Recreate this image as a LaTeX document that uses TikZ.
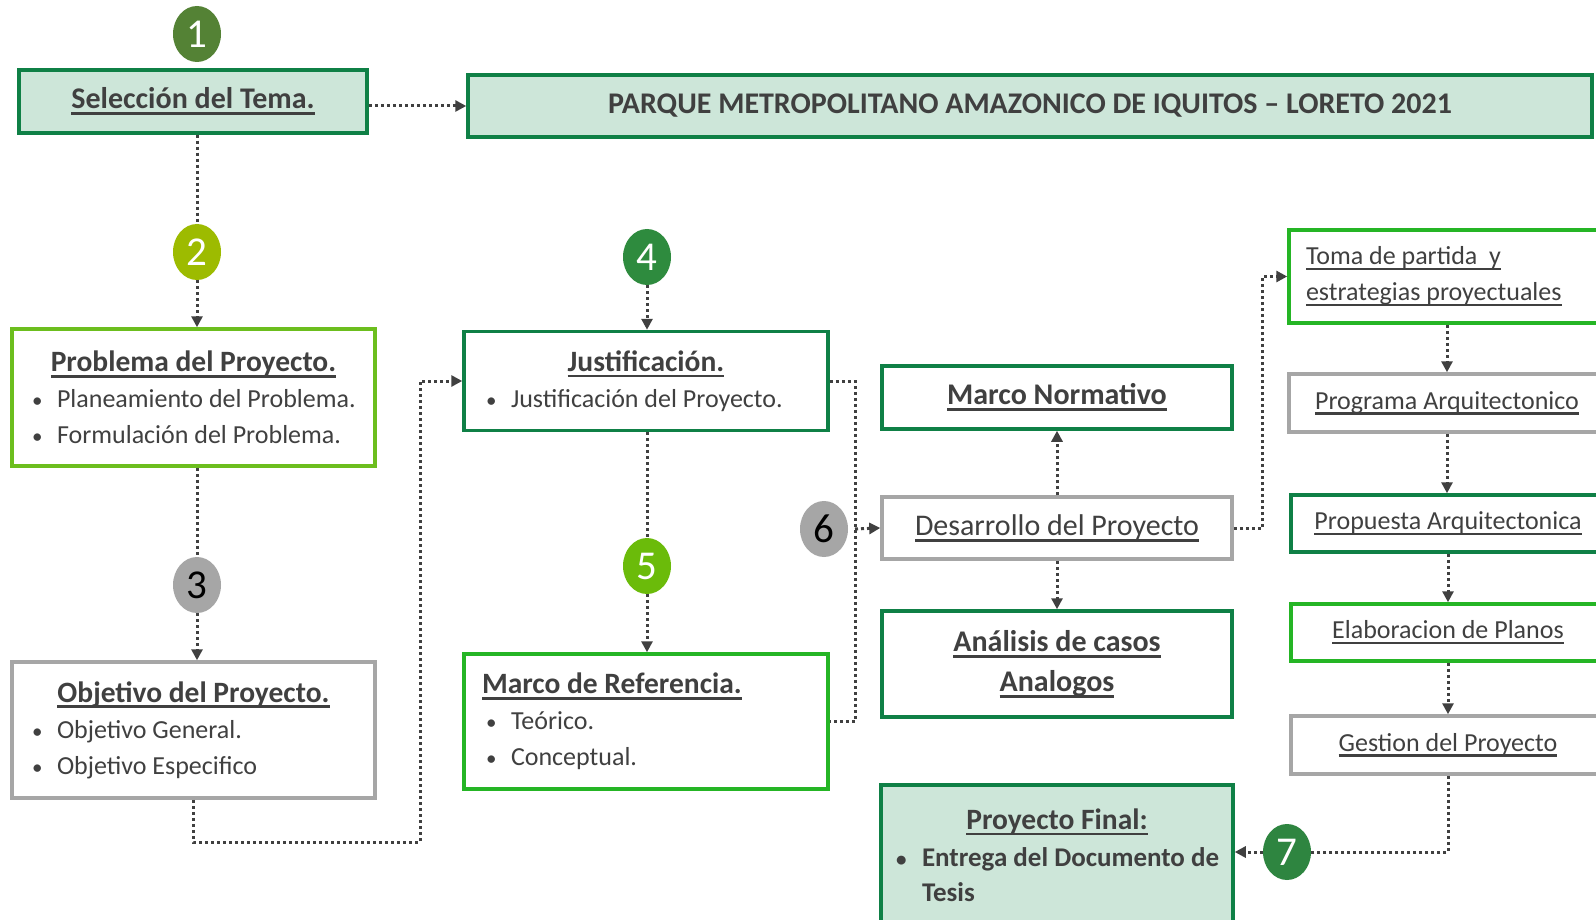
\documentclass[tikz,border=0pt]{standalone}
\usepackage{fontspec}
\setmainfont{Carlito}
\usepackage{tikz}
\usetikzlibrary{arrows.meta,shapes.geometric,positioning}
\definecolor{dgreen}{HTML}{0F8046}
\definecolor{lfill}{HTML}{CDE6D9}
\definecolor{bgreen}{HTML}{25B525}
\definecolor{ygreen}{HTML}{6CBE1E}
\definecolor{gry}{HTML}{A6A6A6}
\definecolor{txt}{HTML}{404040}
\definecolor{cone}{HTML}{548235}
\definecolor{ctwo}{HTML}{9DBB00}
\definecolor{cfour}{HTML}{2E8B3E}
\definecolor{cfive}{HTML}{6BBB0A}
\definecolor{cseven}{HTML}{2E8540}
\newcommand{\hdf}{\fontsize{29.5}{36}\selectfont\bfseries}
\newcommand{\bdf}{\fontsize{26}{36}\selectfont}
\newcommand{\nsk}{\spaceskip=0pt\xspaceskip=0pt\relax}
\newcommand{\ulin}[1]{\leavevmode\setbox0\hbox{\nsk#1}\rlap{\rule[-0.21em]{\wd0}{0.1em}}\box0}
\newcommand{\bdot}{{\fontsize{21}{21}\selectfont\textbullet}}
\newcommand{\bline}[1]{\makebox[25pt][l]{\bdot}\mbox{\nsk#1}}
\tikzset{>={Triangle[length=11pt,width=11pt]}}
\tikzset{
  box/.style={rectangle, draw=#1, line width=3.5pt, inner sep=0pt, text=txt},
  num/.style={ellipse, fill=#1, inner sep=0pt, minimum width=48pt, minimum height=56pt,
    text=white, font=\fontsize{41}{41}\selectfont},
  flow/.style={draw=txt, line width=3pt, dash pattern=on 3pt off 3pt}
}

\begin{document}
\begin{tikzpicture}[x=1pt,y=-1pt]
    \useasboundingbox (0,0) rectangle (1596,920);
    \fill[white] (0,0) rectangle (1596,920);
    \clip (0,0) rectangle (1596,920);

    % paso 1
    \node[num=cone] (c1) at (197,34) {1};
    \node[box=dgreen, fill=lfill, minimum width=348pt, minimum height=63pt, font=\fontsize{30}{36}\selectfont\bfseries] (sel) at (193,101.5) {\ulin{Selección del Tema.}};
    \node[box=dgreen, fill=lfill, minimum width=1124pt, minimum height=62pt, font=\fontsize{30}{36}\selectfont\bfseries] (title) at (1030,106) {\nsk PARQUE METROPOLITANO AMAZONICO DE IQUITOS – LORETO 2021};

    % paso 2 y 3
    \node[num=ctwo] (c2) at (197,252) {2};
    \node[box=ygreen, minimum width=363pt, minimum height=137pt, text width=323pt, align=left, font=\bdf] (prob) at (193.5,397.5)
        {\makebox[\linewidth]{\hdf\ulin{Problema del Proyecto.}}\\ \bline{Planeamiento del Problema.}\\ \bline{Formulación del Problema.}};
    \node[num=gry, text=black] (c3) at (197,585) {3};
    \node[box=gry, minimum width=363pt, minimum height=136pt, text width=323pt, align=left, font=\bdf] (obj) at (193.5,730)
        {\makebox[\linewidth]{\hdf\ulin{Objetivo del Proyecto.}}\\ \bline{Objetivo General.}\\ \bline{Objetivo Especifico}};

    % paso 4 y 5
    \node[num=cfour] (c4) at (647,257) {4};
    \node[box=dgreen, minimum width=364pt, minimum height=99pt, text width=320pt, align=left, font=\bdf] (just) at (646,381)
        {\makebox[\linewidth]{\hdf\ulin{Justificación.}}\\ \bline{Justificación del Proyecto.}};
    \node[num=cfive] (c5) at (647,566) {5};
    \node[box=bgreen, minimum width=364pt, minimum height=135pt, text width=320pt, align=left, font=\bdf] (mref) at (646,721.5)
        {\hspace*{-4pt}{\hdf\ulin{Marco de Referencia.}}\\ \bline{Teórico.}\\ \bline{Conceptual.}};

    % paso 6
    \node[num=gry, text=black] (c6) at (824,529) {6};
    \node[box=dgreen, minimum width=350pt, minimum height=63pt, font=\fontsize{30}{36}\selectfont\bfseries] (mnorm) at (1057,397.5) {\ulin{Marco Normativo}};
    \node[box=gry, minimum width=350pt, minimum height=62pt, font=\fontsize{30}{36}\selectfont] (desa) at (1057,528) {\ulin{Desarrollo del Proyecto}};
    \node[box=dgreen, minimum width=350pt, minimum height=106pt, align=center, font=\fontsize{30}{40}\selectfont\bfseries] (anal) at (1057,664)
        {\ulin{Análisis de casos}\\ \ulin{Analogos}};

    % columna derecha
    \node[box=bgreen, minimum width=316pt, minimum height=93pt, text width=282pt, align=left, font=\bdf] (toma) at (1447,276.5)
        {\ulin{Toma de partida\ \ y}\\ \ulin{estrategias proyectuales}};
    \node[box=gry, minimum width=316pt, minimum height=58pt, font=\bdf] (prog) at (1447,403) {\ulin{Programa Arquitectonico}};
    \node[box=dgreen, minimum width=314pt, minimum height=57pt, font=\bdf] (prop) at (1448,523.5) {\ulin{Propuesta Arquitectonica}};
    \node[box=bgreen, minimum width=314pt, minimum height=57pt, font=\bdf] (elab) at (1448,632.5) {\ulin{Elaboracion de Planos}};
    \node[box=gry, minimum width=314pt, minimum height=58pt, font=\bdf] (gest) at (1448,745) {\ulin{Gestion del Proyecto}};

    % paso 7
    \node[num=cseven] (c7) at (1287,852) {7};
    \node[box=dgreen, fill=lfill, minimum width=352pt, minimum height=140pt, text width=322pt, align=left, font=\fontsize{27}{35}\selectfont\bfseries] (final) at (1057,855)
        {\makebox[\linewidth]{\fontsize{29.5}{35}\selectfont\ulin{Proyecto Final:}}\\[2pt] \makebox[26pt][l]{\bdot}\mbox{\nsk Entrega del Documento de}\\ \hspace*{26pt}Tesis};

    % conectores
    \coordinate (jl) at (420,842);
    \coordinate (brk) at (855,529);
    \draw[flow,->] (sel.east |- title.west) -- (title.west);
    \draw[flow] (c2.north |- sel.south) -- (c2.north);
    \draw[flow,->] (c2.south) -- (c2.south |- prob.north);
    \draw[flow] (c3.north |- prob.south) -- (c3.north);
    \draw[flow,->] (c3.south) -- (c3.south |- obj.north);
    \draw[flow,->] (obj.south) |- (jl) |- (just.west);
    \draw[flow,->] (c4.south) -- (c4.south |- just.north);
    \draw[flow] (c5.north |- just.south) -- (c5.north);
    \draw[flow,->] (c5.south) -- (c5.south |- mref.north);
    \draw[flow] (just.east) -| (brk) |- (mref.east);
    \draw[flow,->] (brk) -- (desa.west);
    \draw[flow,->] (desa.north) -- (mnorm.south);
    \draw[flow,->] (desa.south) -- (anal.north);
    \draw[flow,->] (desa.east) -- ++(29,0) |- (toma.west);
    \draw[flow,->] (toma.south) -- (prog.north);
    \draw[flow,->] (prog.south) -- (prop.north -| prog.south);
    \draw[flow,->] (prop.south) -- (elab.north);
    \draw[flow,->] (elab.south) -- (gest.north);
    \draw[flow] (gest.south) |- (c7.east);
    \draw[flow,->] (c7.west) -- (final.east |- c7.west);
\end{tikzpicture}
\end{document}
